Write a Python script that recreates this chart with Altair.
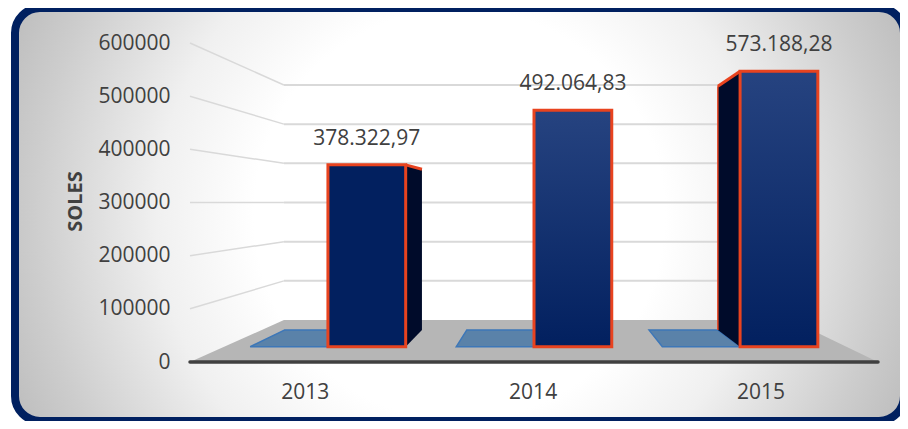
import altair as alt
import pandas as pd

YEARS = ["2013", "2014", "2015"]
TOTALS = [378322.97, 492064.83, 573188.28]
VALUE_LABELS = ["378.322,97", "492.064,83", "573.188,28"]
TICKS = [0, 100000, 200000, 300000, 400000, 500000, 600000]

# Perspective model of the 3D column chart (depth factor 1 = front of floor)
HORIZON = 300000.0
VANISH_X = 1.557
S_FLOOR_BACK = 0.737
S_BAR_FRONT = 0.904
S_BAR_BACK = 0.80
BAR_W = 0.375
STEP = 0.994
FONT = "Open Sans"
TEXT = "#404040"
ORANGE = "#E8431F"


def px(x, s):
    return VANISH_X + (x - VANISH_X) * s


def py(v, s):
    return HORIZON + (v - HORIZON) * s


def centre(i):
    return 0.5 + i * STEP


x_scale = alt.Scale(domain=[0, 3], nice=False, zero=False)
y_scale = alt.Scale(domain=[0, 600000], nice=False, zero=False)
x_axis = alt.Axis(
    title=None, values=[centre(i) for i in range(3)], domain=False, ticks=False, grid=False,
    labelExpr="['" + "','".join(YEARS) + "'][floor(datum.value)]",
    labelFont=FONT, labelFontSize=21, labelColor=TEXT, labelPadding=19,
    labelAngle=0, zindex=1,
)
y_axis = alt.Axis(
    title="SOLES", values=TICKS, format="d", domain=False, ticks=False, grid=False,
    labelFont=FONT, labelFontSize=21, labelColor=TEXT, labelPadding=20,
    titleFont=FONT, titleFontSize=20, titleFontWeight="bold", titleColor=TEXT,
    titleX=-115, titleY=158, titleAlign="center", titleBaseline="middle",
    titleAngle=270, zindex=1,
)
X = alt.X("x:Q", scale=x_scale, axis=x_axis)
Y = alt.Y("y:Q", scale=y_scale, axis=y_axis)

# panel background
panel = alt.Chart(alt.Data(values=[{}])).mark_rect(
    cornerRadius=25,
    stroke="#002060",
    strokeWidth=8,
    color=alt.Gradient(
        gradient="radial", x1=0.5, y1=0.5, x2=0.5, y2=0.5, r1=0, r2=0.55,
        stops=[
            alt.GradientStop(offset=0, color="#FFFFFF"),
            alt.GradientStop(offset=0.42, color="#FFFFFF"),
            alt.GradientStop(offset=0.62, color="#F0F0F0"),
            alt.GradientStop(offset=0.87, color="#CDCDCD"),
            alt.GradientStop(offset=1, color="#BDBDBD"),
        ],
    ),
).encode(x=alt.value(-175), x2=alt.value(714), y=alt.value(-35), y2=alt.value(378))

# walls
grid_rows, wall_rows = [], []
for t in TICKS[1:]:
    grid_rows.append({"x": px(0, S_FLOOR_BACK), "x2": px(3, S_FLOOR_BACK), "y": py(t, S_FLOOR_BACK)})
    wall_rows += [
        {"x": 0, "y": py(t, 1), "tick": t},
        {"x": px(0, S_FLOOR_BACK), "y": py(t, S_FLOOR_BACK), "tick": t},
    ]
back_grid = alt.Chart(pd.DataFrame(grid_rows)).mark_rule(color="#D9D9D9", strokeWidth=2).encode(
    x=X, x2="x2:Q", y=Y)
left_grid = alt.Chart(pd.DataFrame(wall_rows)).mark_line(color="#D9D9D9", strokeWidth=1.5).encode(
    x=X, y=Y, detail="tick:N")

# floor
floor = alt.Chart(pd.DataFrame({
    "y": [py(0, 1), py(0, S_FLOOR_BACK)],
    "x": [0, px(0, S_FLOOR_BACK)],
    "x2": [3, px(3, S_FLOOR_BACK)],
})).mark_area(orient="horizontal", color="#B6B6B6").encode(x=X, x2="x2:Q", y=Y)

# flat (near zero) blue series
tile_rows = []
for i, _ in enumerate(YEARS):
    l, r = centre(i) - BAR_W, centre(i)
    tile_rows += [
        {"year": i, "y": py(0, S_BAR_FRONT), "x": px(l, S_BAR_FRONT), "x2": px(r, S_BAR_FRONT)},
        {"year": i, "y": py(0, S_BAR_BACK), "x": px(l, S_BAR_BACK), "x2": px(r, S_BAR_BACK)},
    ]
tiles = alt.Chart(pd.DataFrame(tile_rows)).mark_area(
    orient="horizontal", color="#5A82A9", stroke="#3D77B8", strokeWidth=1.5
).encode(x=X, x2="x2:Q", y=Y, detail="year:N")

# side faces of the columns
side_rows = []
for i, v in zip([0, 2], [TOTALS[0], TOTALS[2]]):
    edge = centre(i) + BAR_W if i == 0 else centre(i)
    for s in (S_BAR_FRONT, S_BAR_BACK):
        side_rows.append({"year": i, "x": px(edge, s), "y": py(v, s), "y2": py(0, s)})
side_df = pd.DataFrame(side_rows)
sides = alt.Chart(side_df).mark_area(color="#000B2A").encode(x=X, y=Y, y2="y2:Q", detail="year:N")
side_tops = alt.Chart(side_df).mark_line(color=ORANGE, strokeWidth=3).encode(x=X, y=Y, detail="year:N")
side_edge = alt.Chart(side_df.iloc[[3]]).mark_rule(color=ORANGE, strokeWidth=1.5).encode(
    x=X, y=Y, y2="y2:Q")

# front faces
front_df = pd.DataFrame({
    "year": YEARS,
    "x": [px(centre(i), S_BAR_FRONT) for i in range(3)],
    "x2": [px(centre(i) + BAR_W, S_BAR_FRONT) for i in range(3)],
    "y": [py(v, S_BAR_FRONT) for v in TOTALS],
    "y2": [py(0, S_BAR_FRONT)] * 3,
    "mid": [px(centre(i) + BAR_W / 2, S_BAR_FRONT) for i in range(3)],
    "label": VALUE_LABELS,
})
front_first = alt.Chart(front_df).transform_filter(alt.datum.year == YEARS[0]).mark_rect(
    color="#02205F", stroke=ORANGE, strokeWidth=3
).encode(x=X, x2="x2:Q", y=Y, y2="y2:Q")
front_rest = alt.Chart(front_df).transform_filter(alt.datum.year != YEARS[0]).mark_rect(
    stroke=ORANGE, strokeWidth=3,
    color=alt.Gradient(
        gradient="linear", x1=0, y1=0, x2=0, y2=1,
        stops=[
            alt.GradientStop(offset=0, color="#264380"),
            alt.GradientStop(offset=1, color="#02205F"),
        ],
    ),
).encode(x=X, x2="x2:Q", y=Y, y2="y2:Q")

value_text = alt.Chart(front_df).mark_text(
    font=FONT, fontSize=21, color=TEXT, align="center", baseline="middle", dy=-26
).encode(x=alt.X("mid:Q", scale=x_scale, axis=x_axis), y=Y, text="label:N")

baseline = alt.Chart(pd.DataFrame({"x": [0], "x2": [3], "y": [0]})).mark_rule(
    color="#404040", strokeWidth=3.5, strokeCap="round"
).encode(x=X, x2="x2:Q", y=Y)

chart = alt.layer(
    panel, back_grid, left_grid, floor, tiles, sides, side_tops, side_edge,
    front_first, front_rest, baseline, value_text,
).properties(
    width=688,
    height=319,
    autosize=alt.AutoSizeParams(type="none"),
    padding={"left": 182, "top": 35, "right": 22, "bottom": 59},
    background="#FFFFFF",
).configure_view(stroke=None)

chart.save("out.html", embed_options={"renderer": "svg", "actions": False})
